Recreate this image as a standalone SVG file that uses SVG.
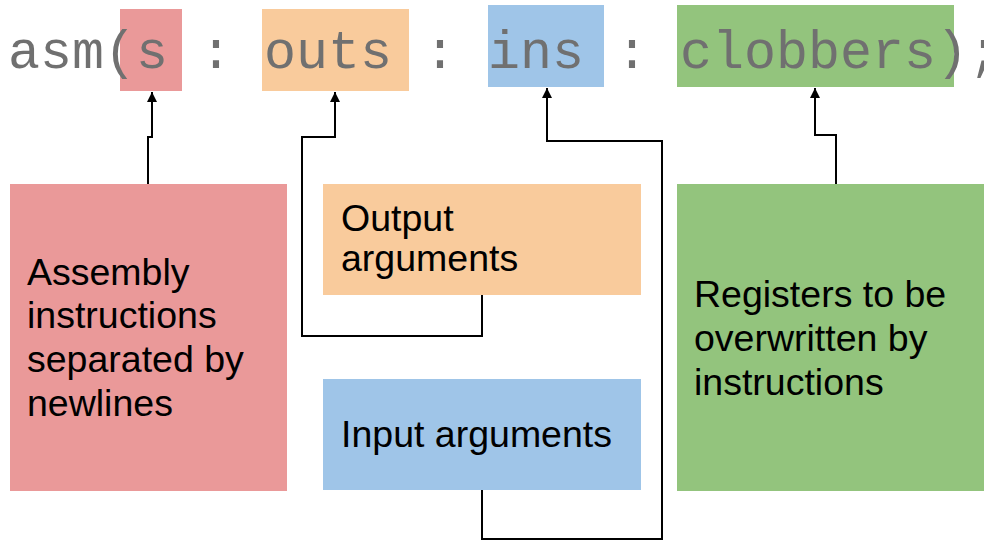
<svg xmlns="http://www.w3.org/2000/svg" width="984" height="541" viewBox="0 0 984 541">
<style>
.lbl{font-family:"Liberation Sans",Arial,sans-serif;font-size:37.5px;fill:#000}
.code{font-family:"Liberation Mono","Courier New",monospace;font-size:53.33px;fill:#707070}
.con{fill:none;stroke:#000;stroke-width:2}
.red{fill:#EA9999}.org{fill:#F9CB9C}.blu{fill:#9FC5E8}.grn{fill:#93C47D}
</style>
<defs>
<marker id="ah" viewBox="0 0 10 10" refX="10" refY="5" markerWidth="10" markerHeight="10" markerUnits="userSpaceOnUse" orient="auto">
<path d="M0,0 L10,5 L0,10 Z" fill="#000"/>
</marker>
</defs>
<g id="code-highlights">
<rect class="red" x="120" y="9" width="62" height="82"/>
<rect class="org" x="262" y="9" width="147" height="82"/>
<rect class="blu" x="488" y="5" width="116" height="82"/>
<rect class="grn" x="677" y="5" width="277" height="82"/>
<text class="code" x="8" y="68">asm(s : outs : ins : clobbers);</text>
</g>
<g id="connectors">
<path class="con" d="M148,184 V137 H152 V92" marker-end="url(#ah)"/>
<path class="con" d="M482,295 V336 H302 V137 H335 V92" marker-end="url(#ah)"/>
<path class="con" d="M482,490 V539 H662 V141 H547 V88" marker-end="url(#ah)"/>
<path class="con" d="M836,184 V135 H815 V88" marker-end="url(#ah)"/>
</g>
<g id="node-asm">
<rect class="red" x="10" y="184" width="277" height="307"/>
<text class="lbl"><tspan x="27" y="285">Assembly</tspan><tspan x="27" y="328">instructions</tspan><tspan x="27" y="372">separated by</tspan><tspan x="27" y="416">newlines</tspan></text>
</g>
<g id="node-outs">
<rect class="org" x="323" y="184" width="318" height="111"/>
<text class="lbl"><tspan x="341" y="231">Output</tspan><tspan x="341" y="271">arguments</tspan></text>
</g>
<g id="node-ins">
<rect class="blu" x="323" y="379" width="318" height="111"/>
<text class="lbl" x="341" y="447">Input arguments</text>
</g>
<g id="node-clobbers">
<rect class="grn" x="677" y="184" width="307" height="307"/>
<text class="lbl"><tspan x="694" y="307">Registers to be</tspan><tspan x="694" y="351">overwritten by</tspan><tspan x="694" y="395">instructions</tspan></text>
</g>
</svg>
